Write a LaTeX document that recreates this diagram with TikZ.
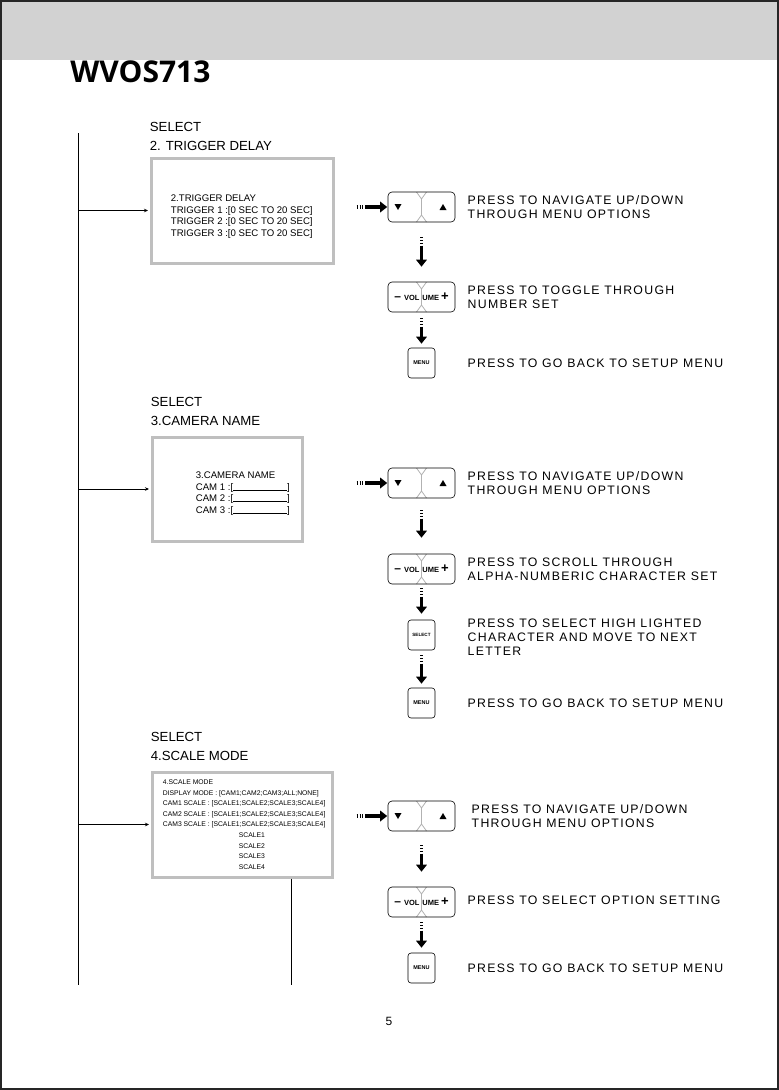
\documentclass[tikz,border=0pt]{standalone}
\usepackage{fontspec}
\usepackage{xcolor}
\setmainfont{Liberation Sans}
\newfontfamily\titlefont{Open Sans}
\newfontfamily\hintfont[LetterSpace=10.5]{Liberation Sans}
\usetikzlibrary{shapes.geometric, arrows.meta, positioning}

% divider of the rocker keys
\newcommand{\keysplit}{%
  \draw[sharp corners, gray!60, line width=0.8pt]
    ([xshift=-5pt]path picture bounding box.north) -- ([yshift=-7pt]path picture bounding box.north) -- ([xshift=5pt]path picture bounding box.north)
    ([yshift=-7pt]path picture bounding box.north) -- ([yshift=7pt]path picture bounding box.south)
    ([xshift=-5pt]path picture bounding box.south) -- ([yshift=7pt]path picture bounding box.south) -- ([xshift=5pt]path picture bounding box.south);}

\begin{document}
\begin{tikzpicture}[x=1pt, y=-1pt, thick]
        \tikzstyle{screen} = [rectangle, draw=gray!50, line width=3pt, inner sep=0pt]
        \tikzstyle{screentext} = [align=left, inner sep=0pt, font=\fontsize{9.6}{11.6}\selectfont]
        \tikzstyle{heading} = [inner sep=0pt, font=\fontsize{13.2}{13.2}\selectfont]
        \tikzstyle{keypad} = [rectangle, rounded corners=4pt, draw=black, line width=0.6pt, minimum width=67pt, minimum height=30pt, inner sep=0pt]
        \tikzstyle{navkey} = [keypad, path picture={\keysplit
            \fill[sharp corners] ([xshift=-27pt,yshift=3pt]path picture bounding box.center) -- ++(7pt,0pt) -- ++(-3.5pt,-6pt) -- cycle;
            \fill[sharp corners] ([xshift=18pt,yshift=-3pt]path picture bounding box.center) -- ++(7pt,0pt) -- ++(-3.5pt,6pt) -- cycle;}]
        \tikzstyle{volkey} = [keypad, font=\bfseries\fontsize{7.5}{7.5}\selectfont, path picture={\keysplit}]
        \tikzstyle{smallkey} = [rectangle, rounded corners=3pt, draw=black, line width=0.6pt, minimum width=27pt, minimum height=30pt, inner sep=0pt, font=\bfseries\fontsize{5.5}{5.5}\selectfont]
        \tikzstyle{hint} = [align=left, inner sep=0pt, font=\hintfont\fontsize{12.3}{14}\selectfont]
        \tikzstyle{steparrow} = [line width=3.4pt, dash pattern=on 1pt off 1.8pt on 1pt off 1.8pt on 1pt off 1.8pt on 80pt, -{Triangle[length=7pt,width=10.5pt]}]
        \tikzstyle{feed} = [line width=0.7pt, -{Stealth[length=4pt,width=3.5pt]}, shorten >=1.5pt]

        \useasboundingbox (0,0) rectangle (779,1090);
        \fill[gray!35] (0,0) rectangle (779,60);
        \draw[line width=2pt, black!85] (1,1) rectangle (778,1089);
        \node (title) [anchor=base west, inner sep=0pt, font=\titlefont\bfseries\fontsize{30}{30}\selectfont] at (70,82) {WVOS713};

        % left flow line
        \coordinate (spinetop) at (78,133);
        \coordinate (spinebot) at (78,985);
        \draw[line width=0.8pt] (spinetop) -- (spinebot);

        % 2. trigger delay
        \node (trig) [screen, minimum width=182pt, minimum height=105pt] at (242,210.5) {};
        \node (trigtxt) [screentext, right=21pt of trig.west, yshift=-6pt] {2.TRIGGER DELAY\\TRIGGER 1 :[0 SEC TO 20 SEC]\\TRIGGER 2 :[0 SEC TO 20 SEC]\\TRIGGER 3 :[0 SEC TO 20 SEC]};
        \node (name1) [heading, anchor=south west, yshift=5pt] at (trig.north west) {2. TRIGGER DELAY};
        \node (sel1) [heading, above=9.5pt of name1.north west, anchor=south west] {SELECT};
        \draw[feed] (spinetop |- trig.west) -- (trig.west);

        \node (nav1) [navkey] at (421.5,207) {};
        \node (navhint1) [hint, right=12pt of nav1] {PRESS TO NAVIGATE UP/DOWN\\THROUGH MENU OPTIONS};
        \coordinate (feed1) at ([xshift=-31pt]nav1.west);
        \node (vol1) [volkey] at (421.5,297) {{\fontsize{12}{12}\selectfont --}\hspace{3pt}VOL\hspace{3pt}UME\hspace{2pt}{\fontsize{13}{13}\selectfont +}};
        \node (volhint1) [hint, right=12pt of vol1] {PRESS TO TOGGLE THROUGH\\NUMBER SET};
        \node (menu1) [smallkey] at (421.5,363) {MENU};
        \node (menuhint1) [hint, right=32pt of menu1] {PRESS TO GO BACK TO SETUP MENU};

        \draw[steparrow, shorten >=0.5pt] (feed1) -- (nav1);
        \draw[steparrow, shorten <=15pt, shorten >=15pt] (nav1) -- (vol1);
        \draw[steparrow, shorten <=6pt, shorten >=4pt] (vol1) -- (menu1);

        % 3. camera name
        \node (cam) [screen, minimum width=150pt, minimum height=104pt] at (227,489) {};
        \node (camtxt) [screentext, right=45pt of cam.west, yshift=-4.5pt] {3.CAMERA NAME\\CAM 1 :[\rule{54pt}{0.5pt}]\\CAM 2 :[\rule{54pt}{0.5pt}]\\CAM 3 :[\rule{54pt}{0.5pt}]};
        \node (name2) [heading, anchor=south west, yshift=9pt] at (cam.north west) {3.CAMERA NAME};
        \node (sel2) [heading, above=9.5pt of name2.north west, anchor=south west] {SELECT};
        \draw[feed] (spinetop |- cam.west) -- (cam.west);

        \node (nav2) [navkey] at (421.5,483) {};
        \node (navhint2) [hint, right=12pt of nav2] {PRESS TO NAVIGATE UP/DOWN\\THROUGH MENU OPTIONS};
        \coordinate (feed2) at ([xshift=-31pt]nav2.west);
        \node (vol2) [volkey] at (421.5,569) {{\fontsize{12}{12}\selectfont --}\hspace{3pt}VOL\hspace{3pt}UME\hspace{2pt}{\fontsize{13}{13}\selectfont +}};
        \node (volhint2) [hint, right=12pt of vol2] {PRESS TO SCROLL THROUGH\\ALPHA-NUMBERIC CHARACTER SET};
        \node (pick2) [smallkey, font=\bfseries\fontsize{4.6}{4.6}\selectfont] at (421.5,635) {SELECT};
        \node (pickhint2) [hint, right=32pt of pick2, yshift=-2pt] {PRESS TO SELECT HIGH LIGHTED\\CHARACTER AND MOVE TO NEXT\\LETTER};
        \node (menu2) [smallkey] at (421.5,703) {MENU};
        \node (menuhint2) [hint, right=32pt of menu2] {PRESS TO GO BACK TO SETUP MENU};

        \draw[steparrow, shorten >=0.5pt] (feed2) -- (nav2);
        \draw[steparrow, shorten <=12pt, shorten >=16pt] (nav2) -- (vol2);
        \draw[steparrow, shorten <=4pt, shorten >=6pt] (vol2) -- (pick2);
        \draw[steparrow, shorten <=5pt, shorten >=4pt] (pick2) -- (menu2);

        % 4. scale mode
        \node (scale) [screen, minimum width=180pt, minimum height=105pt] at (242,824.5) {};
        \node (scaletxt) [screentext, right=12pt of scale.west, font=\fontsize{6.8}{10.6}\selectfont] {4.SCALE MODE\\DISPLAY MODE : [CAM1;CAM2;CAM3;ALL;NONE]\\CAM1 SCALE : [SCALE1;SCALE2;SCALE3;SCALE4]\\CAM2 SCALE : [SCALE1;SCALE2;SCALE3;SCALE4]\\CAM3 SCALE : [SCALE1;SCALE2;SCALE3;SCALE4]\\\hspace*{76pt}SCALE1\\\hspace*{76pt}SCALE2\\\hspace*{76pt}SCALE3\\\hspace*{76pt}SCALE4};
        \node (name3) [heading, anchor=south west, yshift=9pt] at (scale.north west) {4.SCALE MODE};
        \node (sel3) [heading, above=9.5pt of name3.north west, anchor=south west] {SELECT};
        \draw[feed] (spinetop |- scale.west) -- (scale.west);
        \coordinate (scalebot) at (291,985);
        \draw[line width=0.8pt] (scale.south -| scalebot) -- (scalebot);

        \node (nav3) [navkey] at (421.5,816) {};
        \node (navhint3) [hint, right=16pt of nav3] {PRESS TO NAVIGATE UP/DOWN\\THROUGH MENU OPTIONS};
        \coordinate (feed3) at ([xshift=-31pt]nav3.west);
        \node (vol3) [volkey] at (421.5,902) {{\fontsize{12}{12}\selectfont --}\hspace{3pt}VOL\hspace{3pt}UME\hspace{2pt}{\fontsize{13}{13}\selectfont +}};
        \node (volhint3) [hint, right=12pt of vol3, yshift=2pt] {PRESS TO SELECT OPTION SETTING};
        \node (menu3) [smallkey] at (421.5,968) {MENU};
        \node (menuhint3) [hint, right=32pt of menu3] {PRESS TO GO BACK TO SETUP MENU};

        \draw[steparrow, shorten >=0.5pt] (feed3) -- (nav3);
        \draw[steparrow, shorten <=14pt, shorten >=15pt] (nav3) -- (vol3);
        \draw[steparrow, shorten <=5pt, shorten >=5pt] (vol3) -- (menu3);

        \node (pageno) [font=\fontsize{12}{12}\selectfont] at (389,1021) {5};
    \end{tikzpicture}
\end{document}
